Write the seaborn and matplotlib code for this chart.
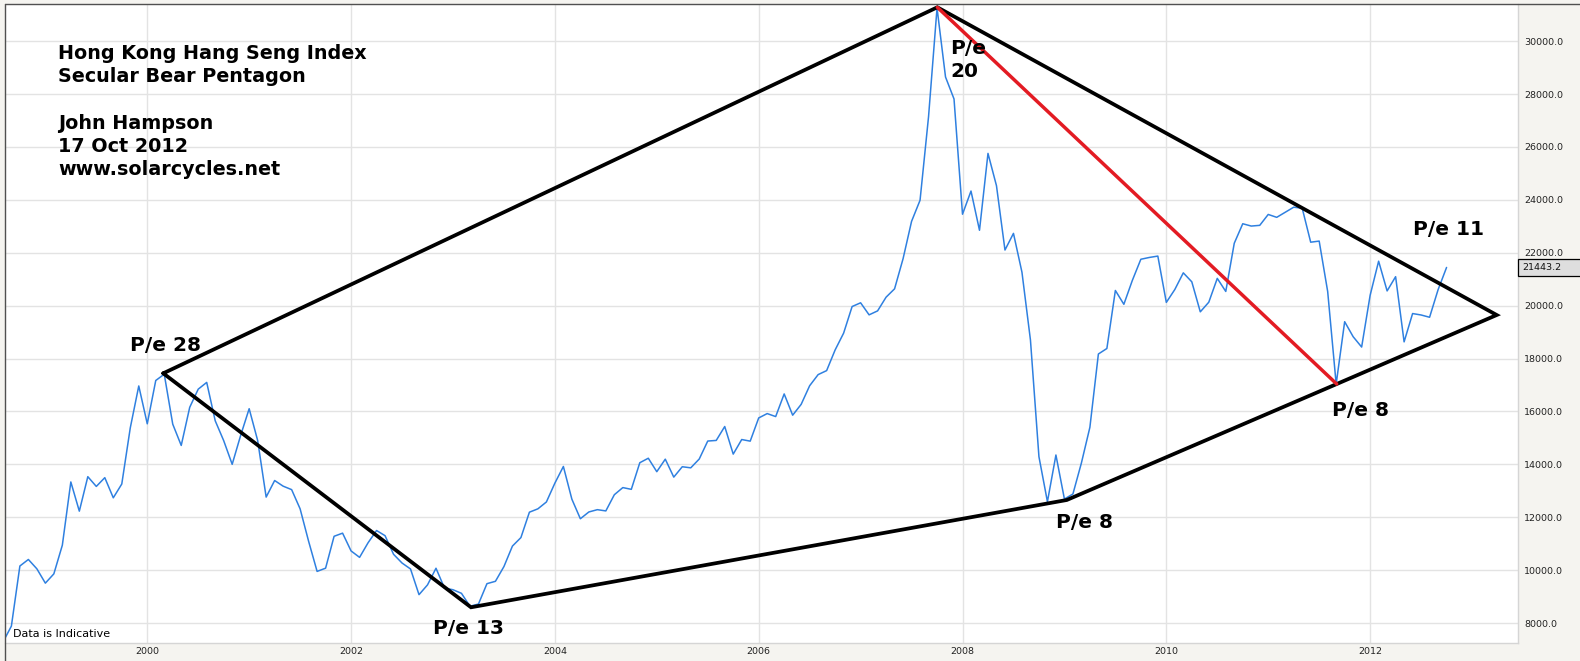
import numpy as np
import pandas as pd
import matplotlib
matplotlib.use("Agg")
import matplotlib.pyplot as plt
import matplotlib.transforms as mtransforms
from matplotlib.lines import Line2D
from matplotlib.patches import Rectangle
import seaborn as sns

# ---------------- data (monthly index level) ----------------
start_year, start_month = 1998, 8          # first point: Aug 1998
hs_1998 = [7275, 7883, 10155, 10402, 10049]
hs_1999 = [9507, 9858, 10942, 13333, 12229, 13532, 13164, 13495, 12734, 13256, 15378, 16962]
hs_2000 = [15532, 17169, 17407, 15519, 14714, 16155, 16841, 17097, 15648, 14895, 14000, 15096]
hs_2001 = [16102, 14900, 12761, 13387, 13174, 13043, 12316, 11090, 9951, 10073, 11279, 11397]
hs_2002 = [10725, 10482, 11033, 11497, 11302, 10599, 10268, 10043, 9072, 9441, 10070, 9321]
hs_2003 = [9258, 9122, 8634, 8717, 9487, 9577, 10134, 10908, 11230, 12190, 12317, 12576]
hs_2004 = [13289, 13918, 12682, 11942, 12198, 12285, 12238, 12850, 13120, 13054, 14060, 14230]
hs_2005 = [13721, 14195, 13516, 13908, 13867, 14201, 14880, 14903, 15429, 14386, 14937, 14876]
hs_2006 = [15753, 15918, 15805, 16661, 15857, 16267, 16971, 17392, 17543, 18324, 18960, 19965]
hs_2007 = [20107, 19651, 19801, 20319, 20635, 21773, 23185, 23984, 27142, 31253, 28643, 27813]
hs_2008 = [23456, 24332, 22849, 25755, 24533, 22102, 22731, 21262, 18700, 14288, 12586, 14352]
hs_2009 = [12688, 12877, 14050, 15400, 18171, 18379, 20573, 20050, 20955, 21753, 21821, 21873]
hs_2010 = [20122, 20609, 21239, 20900, 19765, 20129, 21030, 20536, 22358, 23096, 23008, 23035]
hs_2011 = [23447, 23338, 23528, 23721, 23684, 22398, 22440, 20535, 17036, 19392, 18825, 18434]
hs_2012 = [20390, 21680, 20556, 21094, 18630, 19700, 19646, 19560, 20600, 21443.2]

# pentagon vertices (decimal year, index level) and the red diagonal
pent_t = [2000.157, 2007.753, 2013.242, 2011.672, 2009.023, 2003.177, 2000.157]
pent_v = [17441, 31280, 19645, 17036, 12651, 8594, 17441]
red_t = [2007.753, 2011.672]
red_v = [31280, 17036]

# annotations: (text, decimal year, level at baseline)
pe_labels = [
    ("P/e 28", 1999.830, 18284),
    ("P/e", 2007.877, 29514),
    ("20", 2007.877, 28644),
    ("P/e 13", 2002.803, 7584),
    ("P/e 8", 2008.917, 11592),
    ("P/e 8", 2011.626, 15838),
    ("P/e 11", 2012.421, 22670),
]
title_lines = ["Hong Kong Hang Seng Index", "Secular Bear Pentagon", "",
               "John Hampson", "17 Oct 2012", "www.solarcycles.net"]

x_ticks = [2000, 2002, 2004, 2006, 2008, 2010, 2012]
x_labels = ["2000", "2002", "2004", "2006", "2008", "2010", "2012"]
y_ticks = [8000, 10000, 12000, 14000, 16000, 18000, 20000, 22000, 24000, 26000, 28000, 30000]
y_labels = [f"{v:.1f}" for v in y_ticks]

values = (hs_1998 + hs_1999 + hs_2000 + hs_2001 + hs_2002 + hs_2003 + hs_2004 +
          hs_2005 + hs_2006 + hs_2007 + hs_2008 + hs_2009 + hs_2010 + hs_2011 + hs_2012)
month_idx = np.arange(len(values))
t = start_year + (start_month - 1 + month_idx) / 12.0
df = pd.DataFrame({"t": t, "v": values})

# ---------------- styling ----------------
sns.set_theme(style="white")
plt.rcParams["font.family"] = ["DejaVu Sans"]

W, H = 1580, 661
BG = "#f5f4f0"
BLUE = "#2f80e0"
RED = "#e31b23"

fig = plt.figure(figsize=(W / 100, H / 100), dpi=100, facecolor=BG)
L, T, R, B = 5, 4, 1518, 643
ax = fig.add_axes([L / W, 1 - B / H, (R - L) / W, (B - T) / H])
ax.set_facecolor("white")

sns.lineplot(data=df, x="t", y="v", ax=ax, color=BLUE, lw=1.1, zorder=3)
ax.plot(pent_t, pent_v, color="black", lw=2.7, solid_joinstyle="miter", zorder=4)
ax.plot(red_t, red_v, color=RED, lw=2.5, solid_capstyle="round", zorder=5)

ax.set_xlim(1998.604, 2013.451)
ax.set_ylim(7244, 31404)
ax.set_xlabel("")
ax.set_ylabel("")

ax.set_xticks(x_ticks)
ax.set_xticklabels(x_labels)
ax.set_yticks(y_ticks)
ax.set_yticklabels(y_labels)
ax.yaxis.tick_right()
ax.tick_params(axis="y", length=0, pad=4.3, labelsize=6.8, labelcolor="#222222")
ax.tick_params(axis="x", length=0, pad=2.6, labelsize=6.8, labelcolor="#222222")
ax.grid(True, color="#e3e3e3", lw=1)
ax.set_axisbelow(True)

for s in ["left", "top"]:
    ax.spines[s].set_visible(False)
for s in ["right", "bottom"]:
    ax.spines[s].set_color("#d5d5d5")
    ax.spines[s].set_linewidth(1)

# figure frame (dark top and left border)
fig.add_artist(Line2D([4.5 / W, 4.5 / W], [0, 1 - 3.5 / H], transform=fig.transFigure,
                      color="#505050", lw=1.0))
fig.add_artist(Line2D([4.5 / W, 1], [1 - 3.5 / H, 1 - 3.5 / H], transform=fig.transFigure,
                      color="#505050", lw=1.0))


def fpx(x, y):
    return x / W, 1 - y / H


# title block
for i, line in enumerate(title_lines):
    if line:
        fx, fy = fpx(58, 59.3 + i * 23.1)
        fig.text(fx, fy, line, fontsize=13.8, fontweight="bold", color="black",
                 ha="left", va="baseline")

# P/e annotations
for txt, tx, tv in pe_labels:
    ax.text(tx, tv, txt, fontsize=14.5, fontweight="bold", color="black",
            ha="left", va="baseline", zorder=6)

# footnote
fx, fy = fpx(13, 637)
fig.text(fx, fy, "Data is Indicative", fontsize=8, color="black", ha="left", va="baseline")

# current value box on the right axis (position derived from the last data value)
last_val = values[-1]
xd = ax.transAxes.transform((1.0, 0.0))[0]
yd = ax.transData.transform((t[-1], last_val))[1]
box_h = 17.7
fig.add_artist(Rectangle((xd, yd - box_h / 2), W - xd + 10, box_h,
                         transform=mtransforms.IdentityTransform(),
                         fc="#dedede", ec="black", lw=0.9, zorder=7))
fig.add_artist(plt.Text(xd + 4, yd, f"{last_val:.1f}", transform=mtransforms.IdentityTransform(),
                        ha="left", va="center", fontsize=6.8, color="#111111", zorder=8))

fig.savefig("out.png", dpi=100, facecolor=fig.get_facecolor())
